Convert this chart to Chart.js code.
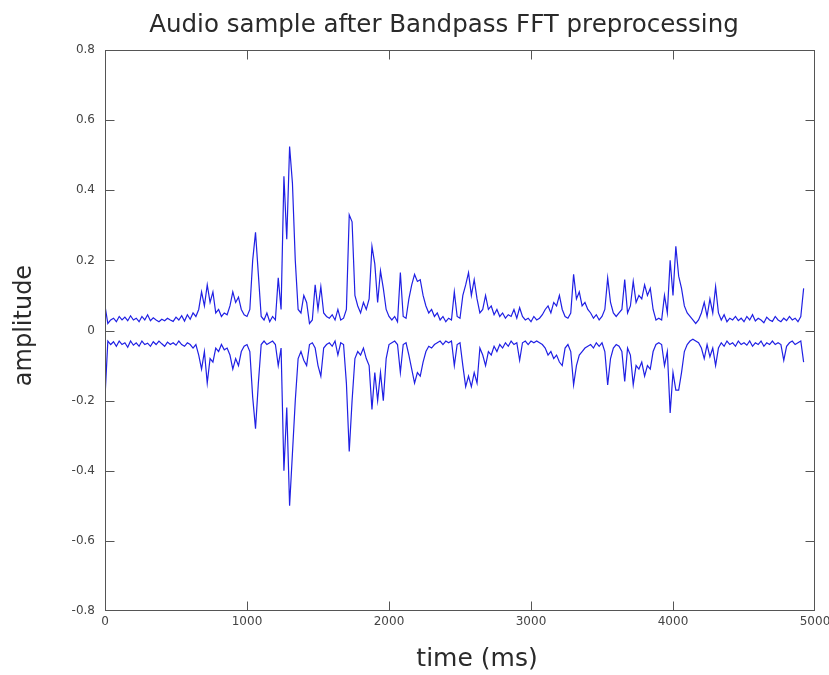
<!DOCTYPE html>
<html>
<head>
<meta charset="utf-8">
<script src="https://cdn.jsdelivr.net/npm/chart.js@4"></script>
<style>
  html, body { margin: 0; padding: 0; background: #fff; }
  #wrap { width: 829px; height: 675px; }
</style>
</head>
<body>
<div id="wrap"><canvas id="c" width="829" height="675"></canvas></div>
<script>
// Sampling step of the envelope (ms)
const stepMs = 20;

// Upper (positive) envelope, one value every 20 ms starting at 0 ms
const upperEnvelope = [
  0.07,0.02,0.03,0.035,0.025,0.04,0.03,0.038,0.028,0.042,
  0.03,0.035,0.025,0.04,0.03,0.045,0.028,0.036,0.03,0.025,
  0.032,0.028,0.035,0.03,0.026,0.038,0.03,0.042,0.027,0.045,
  0.032,0.05,0.04,0.06,0.11,0.07,0.13,0.08,0.11,0.05,
  0.06,0.04,0.05,0.045,0.07,0.11,0.08,0.095,0.06,0.045,
  0.04,0.06,0.2,0.28,0.16,0.04,0.03,0.05,0.025,0.04,
  0.03,0.15,0.06,0.44,0.26,0.525,0.42,0.2,0.06,0.05,
  0.1,0.08,0.02,0.03,0.13,0.06,0.125,0.05,0.04,0.035,
  0.045,0.03,0.06,0.03,0.035,0.06,0.33,0.31,0.1,0.07,
  0.05,0.08,0.06,0.09,0.24,0.19,0.08,0.17,0.12,0.06,
  0.04,0.03,0.04,0.025,0.165,0.04,0.035,0.09,0.13,0.16,
  0.14,0.145,0.1,0.07,0.05,0.06,0.04,0.05,0.03,0.04,
  0.025,0.035,0.03,0.11,0.04,0.035,0.1,0.13,0.165,0.1,
  0.145,0.09,0.05,0.06,0.1,0.06,0.07,0.045,0.06,0.04,
  0.05,0.035,0.045,0.04,0.06,0.035,0.065,0.04,0.03,0.035,
  0.025,0.04,0.03,0.035,0.045,0.06,0.07,0.05,0.08,0.07,
  0.1,0.06,0.04,0.035,0.05,0.16,0.09,0.11,0.07,0.08,
  0.06,0.05,0.035,0.045,0.03,0.04,0.06,0.15,0.08,0.05,
  0.04,0.05,0.06,0.145,0.05,0.07,0.14,0.08,0.1,0.09,
  0.13,0.1,0.12,0.06,0.03,0.035,0.03,0.1,0.05,0.2,
  0.1,0.24,0.155,0.12,0.07,0.05,0.04,0.03,0.02,0.03,
  0.05,0.08,0.04,0.09,0.05,0.125,0.05,0.03,0.045,0.025,
  0.035,0.03,0.04,0.028,0.035,0.025,0.04,0.03,0.045,0.027,
  0.035,0.03,0.022,0.038,0.03,0.026,0.04,0.03,0.025,0.035,
  0.028,0.04,0.03,0.035,0.025,0.04,0.12
];

// Lower (negative) envelope, same sampling
const lowerEnvelope = [
  -0.19,-0.03,-0.04,-0.032,-0.045,-0.03,-0.04,-0.035,-0.048,-0.03,
  -0.042,-0.035,-0.045,-0.03,-0.04,-0.036,-0.045,-0.032,-0.04,-0.03,
  -0.038,-0.045,-0.033,-0.04,-0.035,-0.042,-0.03,-0.04,-0.045,-0.035,
  -0.04,-0.05,-0.04,-0.07,-0.11,-0.06,-0.15,-0.08,-0.09,-0.05,
  -0.06,-0.04,-0.055,-0.05,-0.07,-0.11,-0.08,-0.1,-0.06,-0.045,
  -0.04,-0.06,-0.19,-0.28,-0.15,-0.04,-0.03,-0.04,-0.035,-0.03,
  -0.04,-0.1,-0.05,-0.4,-0.22,-0.5,-0.35,-0.2,-0.08,-0.06,
  -0.085,-0.1,-0.04,-0.035,-0.05,-0.1,-0.13,-0.05,-0.04,-0.035,
  -0.045,-0.03,-0.07,-0.035,-0.04,-0.15,-0.345,-0.2,-0.08,-0.06,
  -0.07,-0.05,-0.08,-0.1,-0.225,-0.12,-0.2,-0.12,-0.2,-0.08,
  -0.04,-0.035,-0.03,-0.04,-0.12,-0.04,-0.035,-0.07,-0.11,-0.15,
  -0.12,-0.13,-0.09,-0.06,-0.045,-0.05,-0.04,-0.035,-0.03,-0.04,
  -0.03,-0.035,-0.03,-0.1,-0.04,-0.035,-0.1,-0.16,-0.13,-0.16,
  -0.12,-0.15,-0.05,-0.07,-0.1,-0.06,-0.07,-0.045,-0.06,-0.04,
  -0.05,-0.035,-0.045,-0.03,-0.04,-0.035,-0.085,-0.035,-0.03,-0.04,
  -0.03,-0.035,-0.03,-0.035,-0.04,-0.05,-0.07,-0.06,-0.08,-0.07,
  -0.09,-0.1,-0.05,-0.04,-0.06,-0.155,-0.1,-0.07,-0.06,-0.05,
  -0.045,-0.04,-0.05,-0.035,-0.045,-0.035,-0.06,-0.155,-0.08,-0.05,
  -0.04,-0.045,-0.06,-0.145,-0.05,-0.07,-0.155,-0.1,-0.11,-0.09,
  -0.13,-0.1,-0.11,-0.06,-0.04,-0.035,-0.04,-0.1,-0.06,-0.235,
  -0.12,-0.17,-0.17,-0.12,-0.06,-0.04,-0.03,-0.025,-0.03,-0.035,
  -0.05,-0.08,-0.04,-0.075,-0.05,-0.1,-0.05,-0.035,-0.045,-0.03,
  -0.04,-0.035,-0.045,-0.03,-0.04,-0.035,-0.042,-0.03,-0.045,-0.035,
  -0.04,-0.03,-0.045,-0.035,-0.04,-0.03,-0.04,-0.035,-0.04,-0.085,
  -0.045,-0.035,-0.03,-0.04,-0.035,-0.03,-0.09
];

// Axis ticks
const xTickValues = [0, 1000, 2000, 3000, 4000, 5000];
const yTickValues = [-0.8, -0.6, -0.4, -0.2, 0, 0.2, 0.4, 0.6, 0.8];

const times = upperEnvelope.map((_, i) => i * stepMs);
const upperPoints = upperEnvelope.map((v, i) => ({ x: times[i], y: v }));
const lowerPoints = lowerEnvelope.map((v, i) => ({ x: times[i], y: v }));

const LINE = 'rgb(32,32,228)';
const FONT = "'DejaVu Sans', sans-serif";

// Frame with inward tick marks on all four sides (gnuplot style)
const framePlugin = {
  id: 'frame',
  afterLayout(chart) {
    const tb = chart.titleBlock;
    if (tb) { tb.left = 59; tb.right = chart.width; tb.width = tb.right - tb.left; }
    const xs = chart.scales.x, ys = chart.scales.y;
    chart.$orig = { xl: xs.left, xr: xs.right, yt: ys.top, yb: ys.bottom };
  },
  beforeDraw(chart) {
    // nudge axis-title placement only while the scales draw
    const o = chart.$orig; if (!o) return;
    const xs = chart.scales.x, ys = chart.scales.y;
    xs.left = o.xl + 17; xs.right = o.xr + 17;
    ys.top = o.yt - 5; ys.bottom = o.yb - 5;
  },
  beforeDatasetsDraw(chart) {
    const o = chart.$orig; if (!o) return;
    const xs = chart.scales.x, ys = chart.scales.y;
    xs.left = o.xl; xs.right = o.xr;
    ys.top = o.yt; ys.bottom = o.yb;
  },
  afterDatasetsDraw(chart) {
    const { ctx, chartArea: a, scales } = chart;
    const xs = scales.x, ys = scales.y;
    ctx.save();
    ctx.strokeStyle = '#555';
    ctx.lineWidth = 1;
    const L = Math.round(a.left) + 0.5, R = Math.round(a.right) - 0.5;
    const T = Math.round(a.top) + 0.5, B = Math.round(a.bottom) - 0.5;
    ctx.strokeRect(L, T, R - L, B - T);
    ctx.beginPath();
    const tl = 9;
    xTickValues.slice(1, -1).forEach(v => {
      const px = Math.round(xs.getPixelForValue(v)) + 0.5;
      ctx.moveTo(px, B); ctx.lineTo(px, B - tl);
      ctx.moveTo(px, T); ctx.lineTo(px, T + tl);
    });
    yTickValues.slice(1, -1).forEach(v => {
      const py = Math.round(ys.getPixelForValue(v)) + 0.5;
      ctx.moveTo(L, py); ctx.lineTo(L + tl, py);
      ctx.moveTo(R, py); ctx.lineTo(R - tl, py);
    });
    ctx.stroke();
    ctx.restore();
  }
};

new Chart(document.getElementById('c'), {
  type: 'line',
  data: {
    datasets: [
      { data: upperPoints, borderColor: LINE, borderWidth: 1.2, pointRadius: 0, tension: 0, fill: false },
      { data: lowerPoints, borderColor: LINE, borderWidth: 1.2, pointRadius: 0, tension: 0, fill: false }
    ]
  },
  options: {
    responsive: false,
    animation: false,
    events: [],
    layout: { padding: { left: 0, right: 0, top: 0, bottom: 0 } },
    plugins: {
      legend: { display: false },
      tooltip: { enabled: false },
      title: {
        display: true,
        text: 'Audio sample after Bandpass FFT preprocessing',
        color: '#2a2a2a',
        font: { family: FONT, size: 24.5, weight: 'normal' },
        padding: { top: 10.6, bottom: 10 }
      }
    },
    scales: {
      x: {
        type: 'linear',
        min: 0, max: 5000,
        afterBuildTicks(s) { s.ticks = xTickValues.map(v => ({ value: v })); },
        afterFit(s) { s.height = 64; s.paddingRight = 14; s.paddingLeft = 0; },
        grid: { display: false, drawTicks: false },
        border: { display: false },
        ticks: {
          color: '#444', font: { family: FONT, size: 12 }, padding: 4, maxRotation: 0,
          callback: v => String(v)
        },
        title: {
          display: true, text: 'time (ms)', color: '#2a2a2a',
          font: { family: FONT, size: 25, weight: 'normal' },
          padding: { top: 0, bottom: 1 }
        }
      },
      y: {
        type: 'linear',
        min: -0.8, max: 0.8,
        afterBuildTicks(s) { s.ticks = yTickValues.map(v => ({ value: v })); },
        afterFit(s) { s.width = 105; },
        grid: { display: false, drawTicks: false },
        border: { display: false },
        ticks: {
          color: '#444', font: { family: FONT, size: 12 }, padding: 10,
          callback: v => String(Number(v.toFixed(1)))
        },
        title: {
          display: true, text: 'amplitude', color: '#2a2a2a',
          font: { family: FONT, size: 24, weight: 'normal' },
          padding: { top: 10, bottom: 0 }
        }
      }
    }
  },
  plugins: [framePlugin]
});
</script>
</body>
</html>
